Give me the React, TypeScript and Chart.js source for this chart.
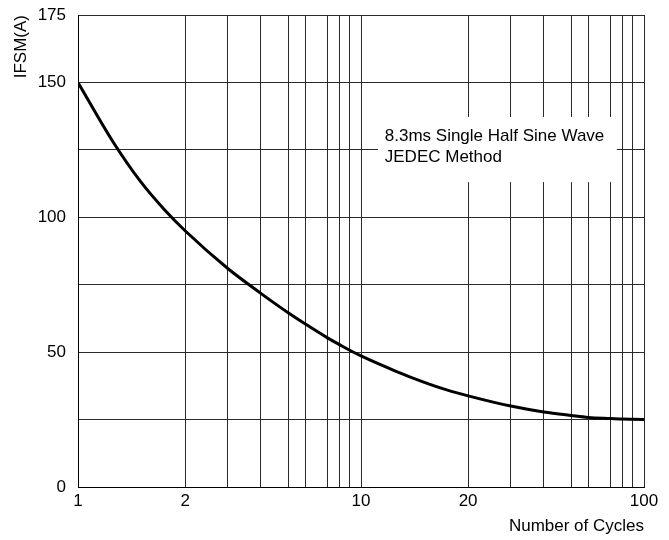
import React, { useEffect, useRef } from 'react';
import { Chart, registerables, LogarithmicScale } from 'chart.js';

// ---- data ----
const X_CYCLES = [1, 1.25, 1.5, 1.75, 2, 3, 4, 5, 6, 7, 8, 9, 10, 12.5, 15, 17.5, 20, 30, 40, 50, 60, 70, 80, 90, 100];
const IFSM = [150, 128.3, 113.2, 102.8, 95, 81, 71.8, 64.5, 60.4, 55.2, 52.8, 50.7, 48.6, 43, 38.9, 35.9, 33.8, 30.0, 27.8, 26.5, 25.8, 25.4, 25.2, 25.1, 25.0];
const X_GRID = [1, 2, 3, 4, 5, 6, 7, 8, 9, 10, 20, 30, 40, 50, 60, 70, 80, 90, 100];
const X_LABELED = [1, 2, 10, 20, 100];
const Y_LABELED = [0, 50, 100, 150, 175];
const NOTE_LINES = ['8.3ms Single Half Sine Wave', 'JEDEC Method'];
// fraction of a decade at which the printed grid places mantissa 1..10
const DECADE_STOPS = [0, 0.3785, 0.5293, 0.646, 0.7441, 0.8036, 0.883, 0.9237, 0.96, 1];

class WarpedLogScale extends LogarithmicScale {
  static id = 'warplog';
  static defaults = LogarithmicScale.defaults;
  warp(v: number) {
    const e = Math.floor(Math.log10(v) + 1e-9);
    const m = v / Math.pow(10, e);
    const k = Math.max(1, Math.min(Math.floor(m + 1e-9), 9));
    const t = Math.log(m / k) / Math.log((k + 1) / k);
    return e + DECADE_STOPS[k - 1] + t * (DECADE_STOPS[k] - DECADE_STOPS[k - 1]);
  }
  getPixelForValue(value: any) {
    if (value === null || value === undefined || isNaN(value)) return NaN;
    if (!(value > 0)) value = this.min;
    const a = this.warp(this.min);
    const b = this.warp(this.max);
    return this.getPixelForDecimal((this.warp(value) - a) / (b - a));
  }
  getValueForPixel(pixel: number) {
    let lo = Math.log10(this.min), hi = Math.log10(this.max);
    for (let i = 0; i < 40; i++) {
      const mid = (lo + hi) / 2;
      const p = this.getPixelForValue(Math.pow(10, mid));
      if (p < pixel) lo = mid; else hi = mid;
    }
    return Math.pow(10, (lo + hi) / 2);
  }
}

Chart.register(...registerables, WarpedLogScale as any);

const notePlugin = {
  id: 'note',
  beforeDatasetsDraw(chart: any) {
    const { ctx, chartArea: a } = chart;
    const w = a.right - a.left;
    const h = a.bottom - a.top;
    ctx.save();
    ctx.fillStyle = '#ffffff';
    ctx.fillRect(a.left + 0.53 * w, a.top + 0.216 * h, 0.422 * w, 0.138 * h);
    ctx.fillStyle = '#000000';
    ctx.font = '17px "Liberation Sans", Arial, sans-serif';
    ctx.textBaseline = 'middle';
    ctx.textAlign = 'left';
    const x = a.left + 0.542 * w;
    ctx.fillText(NOTE_LINES[0], x, a.top + 0.257 * h);
    ctx.fillText(NOTE_LINES[1], x, a.top + 0.301 * h);
    ctx.restore();
  },
};

export default function App() {
  const ref = useRef<HTMLCanvasElement>(null);
  useEffect(() => {
    document.body.style.margin = '0';
    document.body.style.overflow = 'hidden';
    Chart.defaults.font.family = '"Liberation Sans", Arial, sans-serif';
    Chart.defaults.font.size = 17;
    Chart.defaults.color = '#000';
    const chart = new Chart(ref.current as HTMLCanvasElement, {
      type: 'line',
      data: {
        datasets: [
          {
            data: X_CYCLES.map((x, i) => ({ x, y: IFSM[i] })),
            borderColor: '#000',
            borderWidth: 3,
            pointRadius: 0,
            cubicInterpolationMode: 'monotone',
            fill: false,
          },
        ],
      },
      options: {
        animation: false,
        responsive: true,
        maintainAspectRatio: false,
        layout: { padding: { top: 15, right: 25, left: 0, bottom: 0 } },
        plugins: { legend: { display: false }, tooltip: { enabled: false } },
        scales: {
          x: {
            type: 'warplog' as any,
            min: 1,
            max: 100,
            afterBuildTicks: (s: any) => {
              s.ticks = X_GRID.map((v) => ({ value: v }));
            },
            afterFit: (s: any) => {
              s.height = 53;
              s.paddingLeft = 0;
              s.paddingRight = 0;
            },
            grid: { color: '#2a2a2a', lineWidth: 1, drawTicks: false },
            border: { color: '#000', width: 1 },
            ticks: {
              autoSkip: false,
              maxRotation: 0,
              minRotation: 0,
              padding: 4,
              color: '#000',
              font: { size: 17 },
              callback: (v: any) => (X_LABELED.includes(Number(v)) ? String(v) : ''),
            },
            title: {
              display: true,
              text: 'Number of Cycles',
              align: 'end',
              color: '#000',
              font: { size: 17 },
              padding: { top: 0, bottom: 3 },
            },
          } as any,
          y: {
            min: 0,
            max: 175,
            afterFit: (s: any) => {
              s.width = 78;
              s.paddingTop = 0;
              s.paddingBottom = 0;
            },
            grid: { color: '#2a2a2a', lineWidth: 1, drawTicks: false },
            border: { color: '#000', width: 1 },
            ticks: {
              stepSize: 25,
              padding: 12,
              color: '#000',
              font: { size: 17 },
              callback: (v: any) => (Y_LABELED.includes(Number(v)) ? String(v) : ''),
            },
            title: {
              display: true,
              text: 'IFSM(A)',
              align: 'end',
              color: '#000',
              font: { size: 17 },
              padding: { top: 11, bottom: 0 },
            },
          },
        },
      },
      plugins: [notePlugin],
    });
    return () => chart.destroy();
  }, []);
  return (
    <div style={{ position: 'relative', width: 669, height: 540 }}>
      <canvas ref={ref} />
    </div>
  );
}
